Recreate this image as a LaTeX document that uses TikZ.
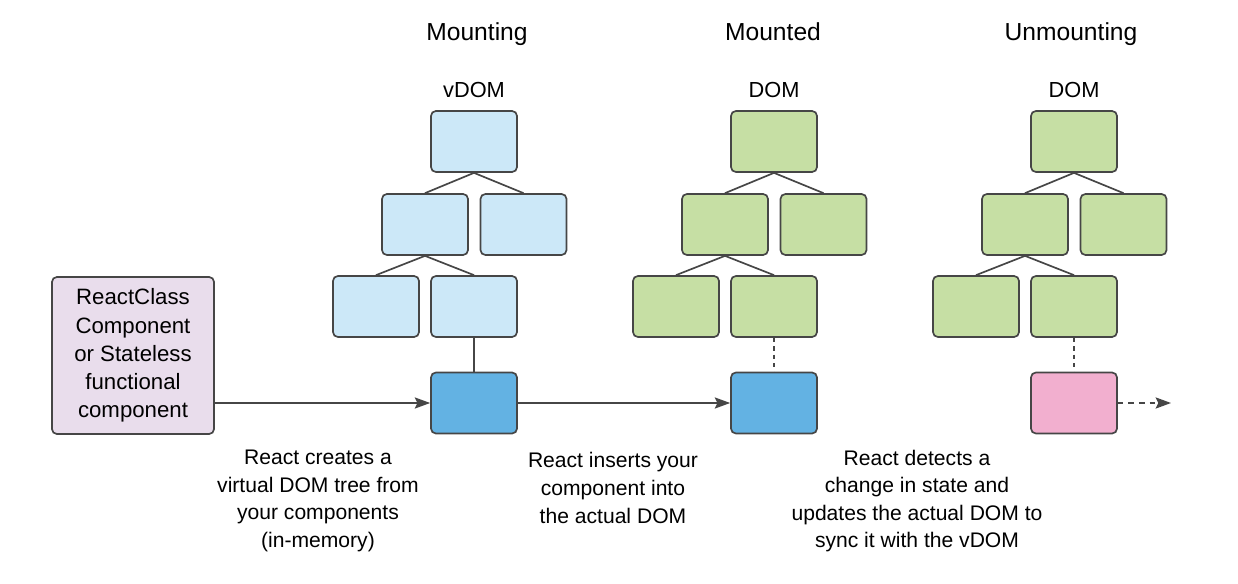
\documentclass[tikz,border=0pt]{standalone}
\usepackage{fontspec}
\setmainfont{Liberation Sans}
\usetikzlibrary{arrows.meta}
\definecolor{vdomfill}{HTML}{CCE8F8}
\definecolor{hostfill}{HTML}{63B2E3}
\definecolor{domfill}{HTML}{C6DFA4}
\definecolor{gonefill}{HTML}{F2AFCF}
\definecolor{classfill}{HTML}{E9DDEC}
\definecolor{edgegray}{HTML}{464646}
\tikzset{
  treebox/.style={draw=edgegray, line width=1.2pt, rounded corners=3.5pt, minimum width=2.15cm, minimum height=1.525cm, inner sep=0pt},
  treeline/.style={draw=edgegray, line width=1.2pt},
  flow/.style={draw=edgegray, line width=1pt, -{Stealth[length=11pt,width=8pt,inset=2pt]}},
  phase/.style={font=\fontsize{17.5}{21}\selectfont, text height=1.5ex, text depth=.3ex},
  layer/.style={font=\fontsize{15.5}{19}\selectfont},
  note/.style={align=center, font=\fontsize{15}{19.6}\selectfont},
}
\begin{document}
\begin{tikzpicture}[x=0.025cm,y=-0.025cm]
\useasboundingbox (0,0) rectangle (1238,584);
% headings
\node[phase] (hmount) at (477,36) {Mounting};
\node[phase] (hmounted) at (773,36) {Mounted};
\node[phase] (hunmount) at (1071,36) {Unmounting};
\node[layer] (lvdom) at (474,90) {vDOM};
\node[layer] (ldom) at (774,90) {DOM};
\node[layer] (ldomu) at (1074,90) {DOM};
% component
\node[treebox, fill=classfill, minimum width=4.05cm, minimum height=3.925cm, align=center, font=\fontsize{15.8}{20}\selectfont] (react) at (133,355.5) {ReactClass\\Component\\or Stateless\\functional\\component};
% mounting: virtual tree
\node[treebox, fill=vdomfill] (vroot) at (474,141.5) {};
\node[treebox, fill=vdomfill] (va) at (425,224.5) {};
\node[treebox, fill=vdomfill] (vb) at (523.5,224.5) {};
\node[treebox, fill=vdomfill] (vc) at (376,306.5) {};
\node[treebox, fill=vdomfill] (vd) at (474,306.5) {};
\node[treebox, fill=hostfill] (vhost) at (474,403) {};
\draw[treeline] (vroot.south) -- (va.north);
\draw[treeline] (vroot.south) -- (vb.north);
\draw[treeline] (va.south) -- (vc.north);
\draw[treeline] (va.south) -- (vd.north);
\draw[treeline] (vd.south) -- (vhost.north);
% mounted: real tree
\node[treebox, fill=domfill] (droot) at (774,141.5) {};
\node[treebox, fill=domfill] (da) at (725,224.5) {};
\node[treebox, fill=domfill] (db) at (823.5,224.5) {};
\node[treebox, fill=domfill] (dc) at (676,306.5) {};
\node[treebox, fill=domfill] (dd) at (774,306.5) {};
\node[treebox, fill=hostfill] (dhost) at (774,403) {};
\draw[treeline] (droot.south) -- (da.north);
\draw[treeline] (droot.south) -- (db.north);
\draw[treeline] (da.south) -- (dc.north);
\draw[treeline] (da.south) -- (dd.north);
\draw[treeline, dash pattern=on 3pt off 3pt] (dd.south) -- (dhost.north);
% unmounting
\node[treebox, fill=domfill] (uroot) at (1074,141.5) {};
\node[treebox, fill=domfill] (ua) at (1025,224.5) {};
\node[treebox, fill=domfill] (ub) at (1123.5,224.5) {};
\node[treebox, fill=domfill] (uc) at (976,306.5) {};
\node[treebox, fill=domfill] (ud) at (1074,306.5) {};
\node[treebox, fill=gonefill] (uhost) at (1074,403) {};
\draw[treeline] (uroot.south) -- (ua.north);
\draw[treeline] (uroot.south) -- (ub.north);
\draw[treeline] (ua.south) -- (uc.north);
\draw[treeline] (ua.south) -- (ud.north);
\draw[treeline, dash pattern=on 3pt off 3pt] (ud.south) -- (uhost.north);
\coordinate (uend) at (1171,403);
% flow
\draw[flow] (react.east |- vhost.west) -- (vhost.west);
\draw[flow] (vhost.east) -- (dhost.west);
\draw[flow, dash pattern=on 4pt off 3.5pt] (uhost.east) -- (uend);
% notes
\node[note] (ncreate) at (318,501) {React creates a\\virtual DOM tree from\\your components\\(in-memory)};
\node[note] (ninsert) at (613,488) {React inserts your\\component into\\the actual DOM};
\node[note] (ndetect) at (917,501) {React detects a\\change in state and\\updates the actual DOM to\\sync it with the vDOM};
\end{tikzpicture}
\end{document}
